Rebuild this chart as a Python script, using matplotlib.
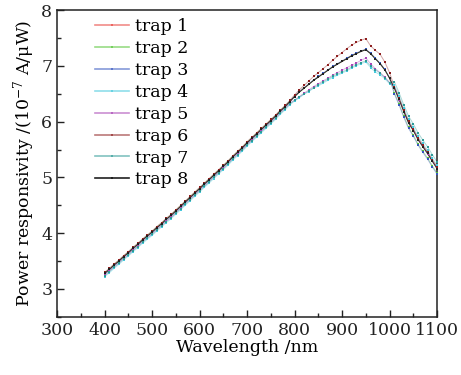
import numpy as np
import matplotlib
matplotlib.use('Agg')
import matplotlib.pyplot as plt
from matplotlib.ticker import MultipleLocator

plt.rcParams['font.family'] = ['DejaVu Serif']
plt.rcParams['mathtext.fontset'] = 'dejavuserif'

wavelength = np.arange(400, 1101, 10)

trap1 = [3.28, 3.35, 3.43, 3.50, 3.58, 3.65, 3.73, 3.80, 3.88, 3.95,
         4.02, 4.10, 4.17, 4.25, 4.32, 4.40, 4.48, 4.56, 4.64, 4.72,
         4.80, 4.88, 4.96, 5.04, 5.12, 5.20, 5.28, 5.37, 5.45, 5.53,
         5.62, 5.70, 5.78, 5.86, 5.94, 6.02, 6.10, 6.19, 6.27, 6.36,
         6.45, 6.53, 6.60, 6.67, 6.74, 6.80, 6.86, 6.92, 6.98, 7.03,
         7.08, 7.13, 7.18, 7.22, 7.26, 7.29, 7.22, 7.13, 7.04, 6.93, 6.78,
         6.62, 6.42, 6.20, 6.00, 5.86, 5.70, 5.57, 5.45, 5.31, 5.18]
trap2 = [3.29, 3.36, 3.44, 3.51, 3.59, 3.66, 3.74, 3.81, 3.89, 3.96,
         4.03, 4.11, 4.18, 4.26, 4.33, 4.41, 4.49, 4.57, 4.65, 4.73,
         4.81, 4.89, 4.97, 5.05, 5.13, 5.21, 5.29, 5.38, 5.46, 5.54,
         5.63, 5.71, 5.79, 5.87, 5.95, 6.03, 6.11, 6.20, 6.28, 6.37,
         6.45, 6.53, 6.60, 6.67, 6.74, 6.80, 6.86, 6.92, 6.98, 7.03,
         7.08, 7.13, 7.18, 7.22, 7.26, 7.29, 7.22, 7.13, 7.04, 6.93, 6.78,
         6.52, 6.32, 6.10, 5.90, 5.76, 5.60, 5.47, 5.35, 5.21, 5.08]
trap3 = [3.27, 3.34, 3.42, 3.49, 3.57, 3.64, 3.72, 3.79, 3.87, 3.94,
         4.01, 4.09, 4.16, 4.24, 4.31, 4.39, 4.47, 4.55, 4.63, 4.71,
         4.79, 4.87, 4.95, 5.03, 5.11, 5.19, 5.27, 5.36, 5.44, 5.52,
         5.61, 5.69, 5.77, 5.85, 5.93, 6.01, 6.09, 6.18, 6.26, 6.35,
         6.46, 6.54, 6.61, 6.68, 6.75, 6.81, 6.87, 6.93, 6.99, 7.04,
         7.09, 7.14, 7.19, 7.23, 7.27, 7.30, 7.23, 7.14, 7.05, 6.94, 6.79,
         6.50, 6.30, 6.08, 5.88, 5.74, 5.58, 5.45, 5.33, 5.19, 5.06]
trap4 = [3.22, 3.29, 3.37, 3.44, 3.52, 3.59, 3.67, 3.74, 3.82, 3.89,
         3.96, 4.04, 4.11, 4.19, 4.26, 4.34, 4.42, 4.50, 4.58, 4.66,
         4.74, 4.82, 4.90, 4.98, 5.06, 5.14, 5.22, 5.31, 5.39, 5.47,
         5.56, 5.64, 5.72, 5.80, 5.88, 5.96, 6.04, 6.13, 6.21, 6.30,
         6.37, 6.43, 6.49, 6.54, 6.60, 6.64, 6.69, 6.74, 6.79, 6.83,
         6.87, 6.91, 6.96, 7.00, 7.04, 7.07, 6.97, 6.89, 6.84, 6.77, 6.68,
         6.66, 6.46, 6.24, 6.04, 5.90, 5.74, 5.61, 5.49, 5.35, 5.22]
trap5 = [3.25, 3.32, 3.40, 3.47, 3.55, 3.62, 3.70, 3.77, 3.85, 3.92,
         3.99, 4.07, 4.14, 4.22, 4.29, 4.37, 4.45, 4.53, 4.61, 4.69,
         4.77, 4.85, 4.93, 5.01, 5.09, 5.17, 5.25, 5.34, 5.42, 5.50,
         5.59, 5.67, 5.75, 5.83, 5.91, 5.99, 6.07, 6.16, 6.24, 6.33,
         6.39, 6.45, 6.51, 6.57, 6.63, 6.68, 6.73, 6.78, 6.83, 6.88,
         6.92, 6.97, 7.01, 7.05, 7.10, 7.14, 7.04, 6.95, 6.88, 6.80, 6.70,
         6.62, 6.38, 6.19, 5.97, 5.85, 5.67, 5.56, 5.42, 5.30, 5.15]
trap6 = [3.30, 3.37, 3.45, 3.52, 3.60, 3.67, 3.75, 3.82, 3.90, 3.97,
         4.04, 4.12, 4.19, 4.27, 4.34, 4.42, 4.50, 4.58, 4.66, 4.74,
         4.82, 4.90, 4.98, 5.06, 5.14, 5.22, 5.30, 5.39, 5.47, 5.55,
         5.64, 5.72, 5.80, 5.88, 5.96, 6.04, 6.12, 6.21, 6.29, 6.38,
         6.48, 6.57, 6.65, 6.73, 6.81, 6.88, 6.95, 7.02, 7.10, 7.17,
         7.24, 7.31, 7.37, 7.42, 7.46, 7.49, 7.36, 7.28, 7.21, 7.07, 6.88,
         6.63, 6.43, 6.21, 6.01, 5.87, 5.71, 5.58, 5.46, 5.32, 5.19]
trap7 = [3.24, 3.31, 3.39, 3.46, 3.54, 3.61, 3.69, 3.76, 3.84, 3.91,
         3.98, 4.06, 4.13, 4.21, 4.28, 4.36, 4.44, 4.52, 4.60, 4.68,
         4.76, 4.84, 4.92, 5.00, 5.08, 5.16, 5.24, 5.33, 5.41, 5.49,
         5.58, 5.66, 5.74, 5.82, 5.90, 5.98, 6.06, 6.15, 6.23, 6.32,
         6.38, 6.44, 6.50, 6.55, 6.61, 6.66, 6.71, 6.76, 6.81, 6.85,
         6.89, 6.93, 6.98, 7.02, 7.06, 7.09, 7.00, 6.93, 6.87, 6.79, 6.70,
         6.72, 6.52, 6.30, 6.10, 5.96, 5.80, 5.67, 5.55, 5.41, 5.28]
trap8 = [3.28, 3.35, 3.43, 3.50, 3.58, 3.65, 3.73, 3.80, 3.88, 3.95,
         4.02, 4.10, 4.17, 4.25, 4.32, 4.40, 4.48, 4.56, 4.64, 4.72,
         4.80, 4.88, 4.96, 5.04, 5.12, 5.20, 5.28, 5.37, 5.45, 5.53,
         5.62, 5.70, 5.78, 5.86, 5.94, 6.02, 6.10, 6.19, 6.27, 6.36,
         6.45, 6.53, 6.60, 6.67, 6.74, 6.80, 6.86, 6.92, 6.98, 7.03,
         7.08, 7.13, 7.18, 7.22, 7.26, 7.29, 7.22, 7.13, 7.04, 6.93, 6.78,
         6.60, 6.40, 6.18, 5.98, 5.84, 5.68, 5.55, 5.43, 5.29, 5.16]

traps = [trap1, trap2, trap3, trap4, trap5, trap6, trap7, trap8]
labels = ['trap 1', 'trap 2', 'trap 3', 'trap 4', 'trap 5', 'trap 6', 'trap 7', 'trap 8']
colors = ['#e8403a', '#55c535', '#3556c0', '#45c8dc', '#a845b5', '#8e2020', '#2f9a96', '#202020']

fig = plt.figure(figsize=(4.61, 3.75), dpi=100)
ax = fig.add_axes([0.124, 0.155, 0.824, 0.818])

for vals, lab, c in zip(traps, labels, colors):
    a = 0.9 if lab == 'trap 8' else 0.4
    ax.plot(wavelength, vals, color=c, lw=0.7, alpha=a, zorder=2)
    ax.plot(wavelength, vals, ls='none', marker='s', ms=1.8, mew=0,
            color=c, zorder=3)
    ax.plot([], [], color=c, lw=1.2, alpha=0.6 if lab != 'trap 8' else 1,
            marker='s', ms=1.8, mew=0, mfc=c, label=lab)

ax.set_xlim(300, 1100)
ax.set_ylim(2.5, 8)
ax.xaxis.set_major_locator(MultipleLocator(100))
ax.xaxis.set_minor_locator(MultipleLocator(50))
ax.yaxis.set_major_locator(MultipleLocator(1))
ax.yaxis.set_minor_locator(MultipleLocator(0.5))
ax.tick_params(which='both', direction='in', top=False, right=False,
               labelsize=12.5, width=1, colors='#222222')
ax.tick_params(which='major', length=5)
ax.tick_params(which='minor', length=3)
for s in ax.spines.values():
    s.set_linewidth(1.1)
    s.set_color('#222222')

ax.set_xlabel('Wavelength /nm', fontsize=12.5, labelpad=0)
ax.set_ylabel('Power responsivity /(10$^{-7}$ A/μW)', fontsize=12.5, labelpad=3)

ax.legend(loc='upper left', bbox_to_anchor=(0.085, 0.99), frameon=False,
          fontsize=12.5, handlelength=2.0, handletextpad=0.35,
          labelspacing=0.28, borderaxespad=0.1, borderpad=0.2)

fig.savefig('out.png', dpi=100)
